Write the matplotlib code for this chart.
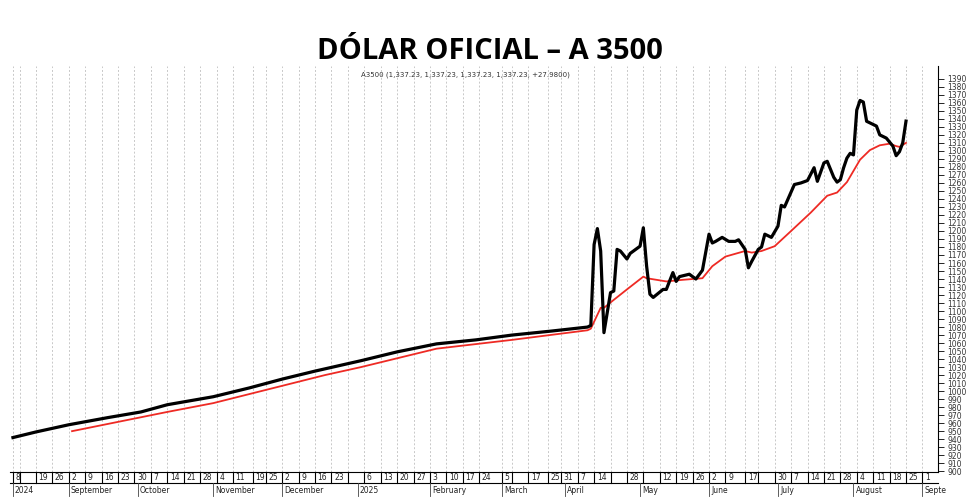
import numpy as np
import matplotlib
matplotlib.use("Agg")
import matplotlib.pyplot as plt

black_dates = ["2024-08-08","2024-08-19","2024-09-02","2024-09-18","2024-10-02","2024-10-14","2024-11-01",
"2024-11-18","2024-12-02","2024-12-16","2025-01-03","2025-01-20","2025-02-05","2025-02-21","2025-03-10",
"2025-03-26","2025-04-10","2025-04-11","2025-04-14","2025-04-15","2025-04-16","2025-04-17","2025-04-21",
"2025-04-22","2025-04-23","2025-04-24","2025-04-28","2025-04-29","2025-04-30","2025-05-02","2025-05-05",
"2025-05-06","2025-05-07","2025-05-08","2025-05-13","2025-05-14","2025-05-16","2025-05-19","2025-05-20",
"2025-05-23","2025-05-27","2025-05-29","2025-06-02","2025-06-03","2025-06-04","2025-06-06","2025-06-10",
"2025-06-12","2025-06-13","2025-06-17","2025-06-18","2025-06-19","2025-06-23","2025-06-24","2025-06-25",
"2025-06-27","2025-07-01","2025-07-02","2025-07-03","2025-07-08","2025-07-10","2025-07-14","2025-07-16",
"2025-07-17","2025-07-21","2025-07-22","2025-07-24","2025-07-25","2025-07-28","2025-07-29","2025-07-30",
"2025-07-31","2025-08-01","2025-08-04","2025-08-05","2025-08-06","2025-08-07","2025-08-11","2025-08-12",
"2025-08-13","2025-08-15","2025-08-19","2025-08-20","2025-08-21","2025-08-22","2025-08-25"]
black_vals = [942,949,958,967,974,983,993,1004,1015,1025,1038,1049,1059,1064,1070,1075,1080,1082,1183,1203,
1175,1073,1123,1125,1177,1175,1165,1172,1175,1181,1204,1156,1121,1117,1127,1127,1148,1137,1143,1146,1140,
1151,1196,1185,1187,1192,1187,1187,1189,1177,1154,1162,1177,1180,1196,1192,1206,1232,1230,1258,1260,1263,
1279,1262,1285,1287,1267,1261,1264,1279,1291,1297,1295,1351,1363,1361,1337,1333,1331,1320,1316,1306,1294,
1299,1310,1337.23]

red_dates = ["2024-09-03","2024-10-14","2024-11-01","2024-12-19","2025-01-03","2025-02-05","2025-03-10",
"2025-04-10","2025-04-11","2025-04-16","2025-04-17","2025-04-22","2025-04-28","2025-05-05","2025-05-06",
"2025-05-14","2025-05-21","2025-05-29","2025-06-03","2025-06-09","2025-06-17","2025-06-19","2025-06-24",
"2025-06-30","2025-07-07","2025-07-15","2025-07-22","2025-07-25","2025-07-30","2025-08-05","2025-08-08",
"2025-08-13","2025-08-18","2025-08-20","2025-08-21","2025-08-25"]
red_vals = [950,974,985,1020,1030,1053,1064,1076,1078,1104,1104,1114,1127,1143,1141,1137,1139,1141,1156,
1168,1175,1173,1175,1181,1200,1223,1244,1248,1261,1289,1301,1307,1309,1306,1305,1310]

tick_dates = ["2024-08-08","2024-08-12","2024-08-19","2024-08-26","2024-09-02","2024-09-09","2024-09-16",
"2024-09-23","2024-09-30","2024-10-07","2024-10-14","2024-10-21","2024-10-28","2024-11-04","2024-11-11",
"2024-11-19","2024-11-25","2024-12-02","2024-12-09","2024-12-16","2024-12-23","2024-12-30","2025-01-06",
"2025-01-13","2025-01-20","2025-01-27","2025-02-03","2025-02-10","2025-02-17","2025-02-24","2025-03-05",
"2025-03-10","2025-03-17","2025-03-25","2025-03-31","2025-04-07","2025-04-14","2025-04-21","2025-04-28",
"2025-05-05","2025-05-12","2025-05-19","2025-05-26","2025-06-02","2025-06-09","2025-06-17","2025-06-23",
"2025-06-30","2025-07-07","2025-07-14","2025-07-21","2025-07-28","2025-08-04","2025-08-11","2025-08-18",
"2025-08-25","2025-09-01"]
tick_labels = ["8","","19","26","2","9","16","23","30","7","14","21","28","4","11","19","25","2","9","16",
"23","","6","13","20","27","3","10","17","24","5","","17","25","31","7","14","","28","","12","19","26","2",
"9","17","","30","7","14","21","28","4","11","18","25","1"]
month_dates = ["2024-08-08","2024-09-02","2024-10-01","2024-11-01","2024-12-02","2025-01-02","2025-02-03",
"2025-03-05","2025-04-01","2025-05-02","2025-06-02","2025-07-01","2025-08-01","2025-09-01"]
month_labels = ["2024","September","October","November","December","2025","February","March","April",
"May","June","July","August","Septe"]

base = np.datetime64("2024-08-08")
def bd(ds):
    return np.array([np.busday_count(base, np.datetime64(d)) for d in ds])

fig = plt.figure(figsize=(9.8, 5.04), dpi=100)
ax = fig.add_axes([0.0102, 0.0635, 0.9468, 0.8055])
ax.set_xlim(-0.9, 281.7)
ax.set_ylim(899, 1406)

tx = bd(tick_dates)
for x in tx:
    ax.axvline(x, color="#c8c8c8", lw=0.7, ls=(0, (2, 2)), zorder=0)

ax.plot(bd(red_dates), red_vals, color="#ee2a24", lw=1.3, zorder=2)
ax.plot(bd(black_dates), black_vals, color="black", lw=2.3, zorder=3)

for s in ["top", "left"]:
    ax.spines[s].set_visible(False)
ax.spines["bottom"].set_linewidth(0.8)
ax.spines["right"].set_linewidth(0.8)
ax.yaxis.tick_right()
ax.set_yticks(np.arange(900, 1400, 10))
ax.tick_params(axis="y", labelsize=5.5, length=4, width=0.6, pad=3, labelcolor="#333333")
ax.set_xticks([])

tr = ax.get_xaxis_transform()
# date row boxes
ax.plot([-0.9, 281.7], [-0.026, -0.026], transform=tr, color="black", lw=0.8, clip_on=False)
for x, lab in zip(tx, tick_labels):
    ax.plot([x, x], [0, -0.026], transform=tr, color="black", lw=0.8, clip_on=False)
    if lab:
        ax.text(x + 0.8, -0.013, lab, transform=tr, fontsize=5.5, va="center", ha="left",
                color="#222222", clip_on=False)
mx = bd(month_dates)
for x, lab in zip(mx, month_labels):
    ax.plot([x, x], [-0.026, -0.06], transform=tr, color="#444444", lw=0.6, clip_on=False)
    ax.text(x + 0.6, -0.045, lab, transform=tr, fontsize=5.5, va="center", ha="left",
            color="#222222", clip_on=False)

fig.text(0.5, 0.898, "DÓLAR OFICIAL – A 3500", fontsize=21, fontweight="bold",
         family=["Open Sans", "DejaVu Sans"], ha="center", va="center")
fig.text(0.475, 0.852, "A3500 (1,337.23, 1,337.23, 1,337.23, 1,337.23, +27.9800)", fontsize=5,
         ha="center", va="center", color="#333333")

fig.savefig("out.png", dpi=100)
